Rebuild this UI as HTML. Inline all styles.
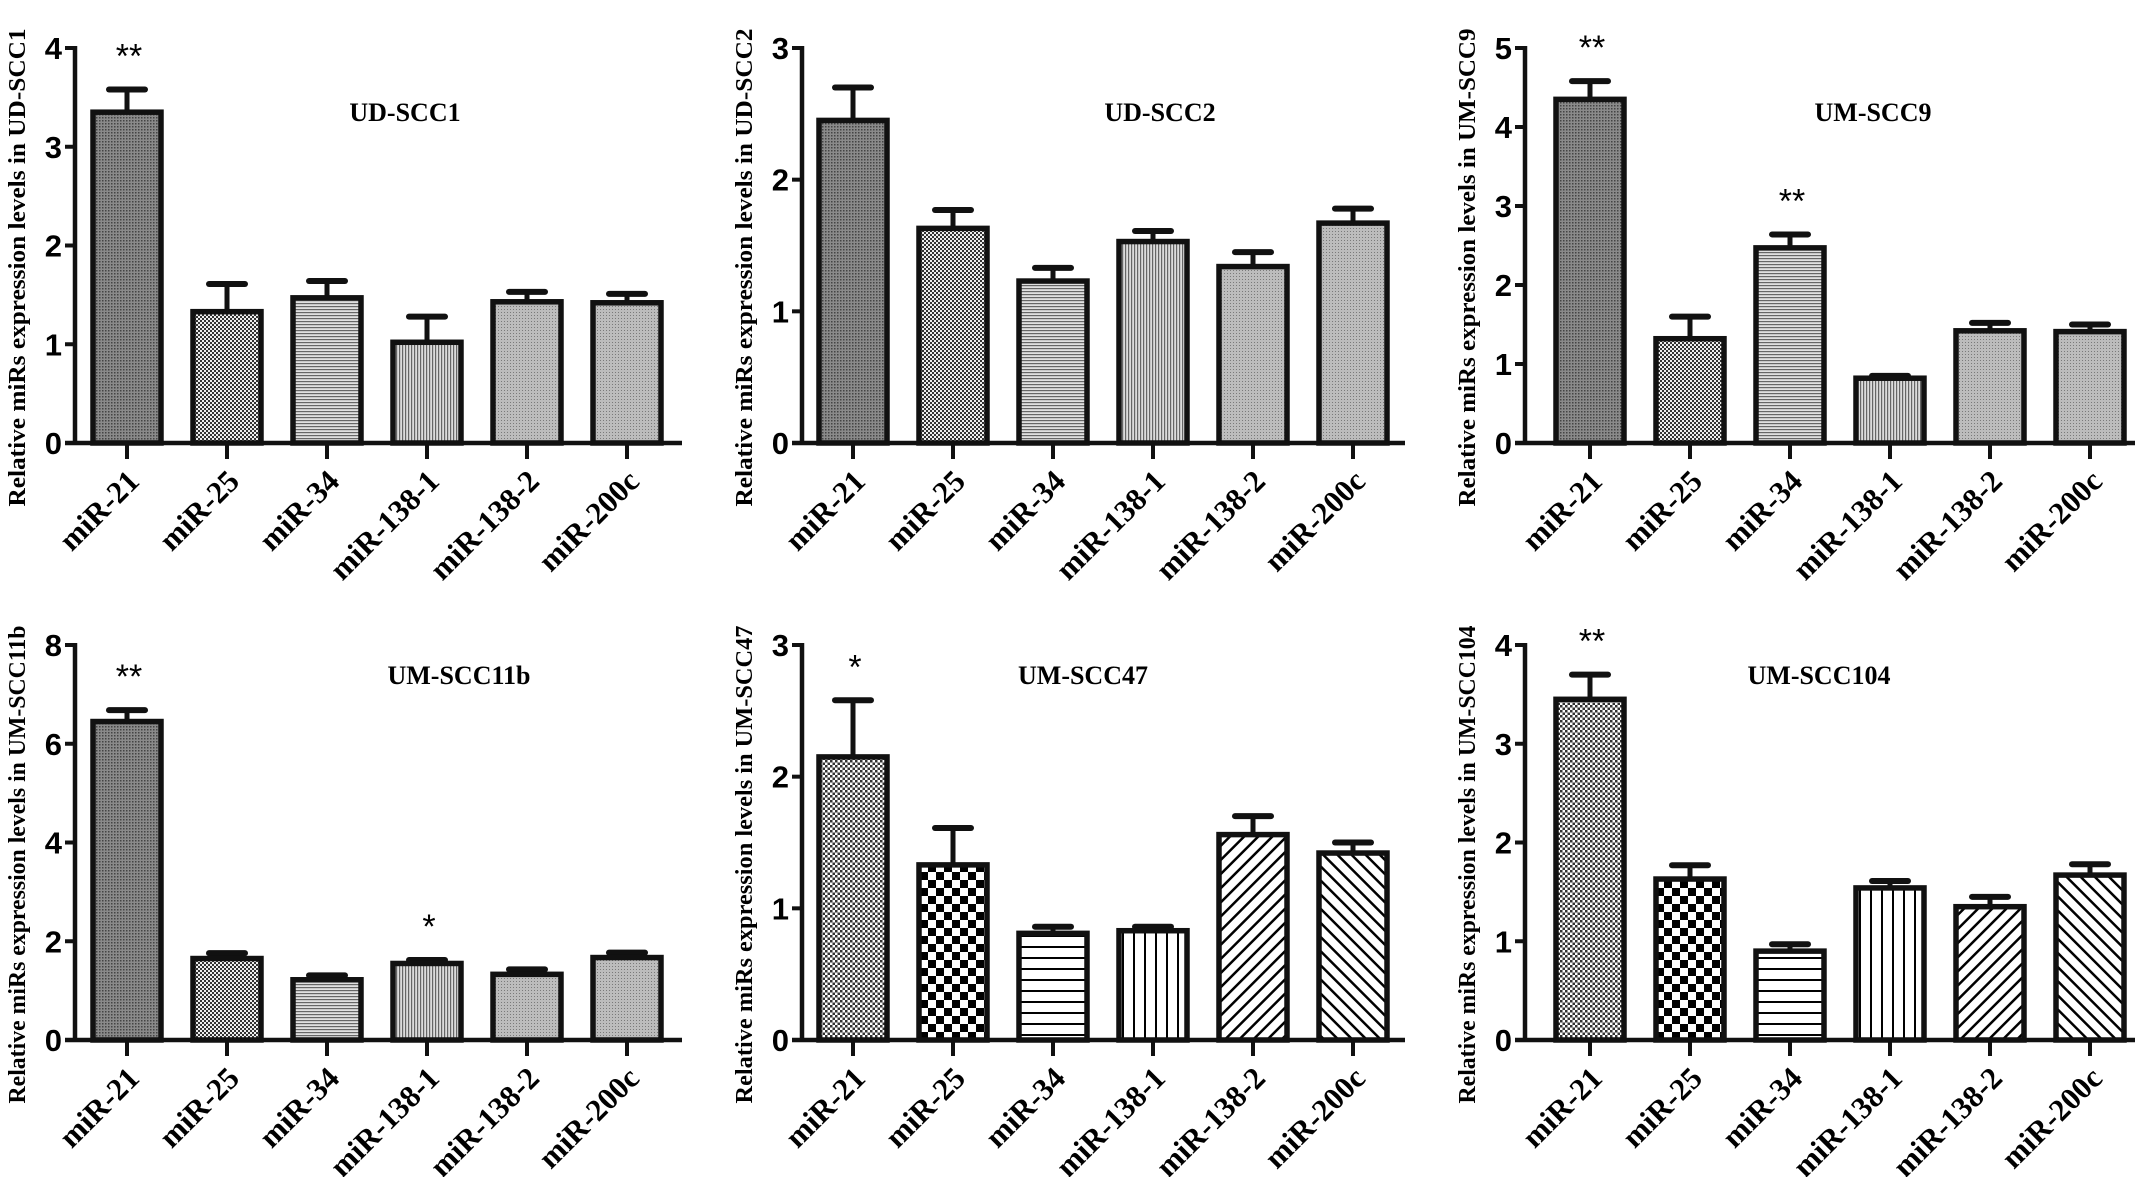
<!DOCTYPE html>
<html><head><meta charset="utf-8">
<style>
html,body{margin:0;padding:0;background:#fff;}
svg{display:block;}
.tick{font-family:"Liberation Sans",sans-serif;font-weight:bold;font-size:31px;}
.cat{font-family:"Liberation Serif",serif;font-weight:bold;font-size:31px;}
.ylab{font-family:"Liberation Serif",serif;font-weight:bold;font-size:24px;}
.ttl{font-family:"Liberation Serif",serif;font-weight:bold;font-size:26px;}
.star{font-family:"Liberation Sans",sans-serif;font-size:34px;}
</style></head>
<body>
<svg id="fig" width="2150" height="1177" viewBox="0 0 2150 1177" xmlns="http://www.w3.org/2000/svg">
<defs>
<pattern id="pDark" width="3" height="3" patternUnits="userSpaceOnUse"><rect width="3" height="3" fill="#8a8a8a"/><rect width="1.5" height="1.5" fill="#444"/></pattern>
<pattern id="pCheckFine" width="4" height="4" patternUnits="userSpaceOnUse"><rect width="4" height="4" fill="#eee"/><rect width="2" height="2" fill="#333"/><rect x="2" y="2" width="2" height="2" fill="#333"/></pattern>
<pattern id="pHFine" width="4" height="3" patternUnits="userSpaceOnUse"><rect width="4" height="3" fill="#e0e0e0"/><rect width="4" height="1.2" fill="#666"/></pattern>
<pattern id="pVFine" width="3" height="4" patternUnits="userSpaceOnUse"><rect width="3" height="4" fill="#dcdcdc"/><rect width="1.2" height="4" fill="#666"/></pattern>
<pattern id="pLight" width="3" height="3" patternUnits="userSpaceOnUse"><rect width="3" height="3" fill="#bcbcbc"/><rect width="1" height="1" fill="#7a7a7a"/></pattern>
<pattern id="pDots" width="5" height="5" patternUnits="userSpaceOnUse"><rect width="5" height="5" fill="#fff"/><rect width="2.5" height="2.5" fill="#333"/><rect x="2.5" y="2.5" width="2.5" height="2.5" fill="#333"/></pattern>
<pattern id="pCheck" width="16" height="16" patternUnits="userSpaceOnUse"><rect width="16" height="16" fill="#fff"/><rect width="8" height="8" fill="#000"/><rect x="8" y="8" width="8" height="8" fill="#000"/></pattern>
<pattern id="pH" width="10" height="11" patternUnits="userSpaceOnUse"><rect width="10" height="11" fill="#fff"/><rect width="10" height="2" fill="#000"/></pattern>
<pattern id="pV" width="11" height="10" patternUnits="userSpaceOnUse"><rect width="11" height="10" fill="#fff"/><rect width="2" height="10" fill="#000"/></pattern>
<pattern id="pD1" width="10" height="10" patternUnits="userSpaceOnUse" patternTransform="rotate(45)"><rect width="10" height="10" fill="#fff"/><rect width="2.5" height="10" fill="#000"/></pattern>
<pattern id="pD2" width="10" height="10" patternUnits="userSpaceOnUse" patternTransform="rotate(-45)"><rect width="10" height="10" fill="#fff"/><rect width="2.5" height="10" fill="#000"/></pattern>
</defs>
</svg>
<script>
const categories = ["miR-21","miR-25","miR-34","miR-138-1","miR-138-2","miR-200c"];
const titles = ["UD-SCC1","UD-SCC2","UM-SCC9","UM-SCC11b","UM-SCC47","UM-SCC104"];
const yMax = [4,3,5,8,3,4];
const yStep = [1,1,1,2,1,1];
const valsUDSCC1 = [3.35,1.33,1.47,1.02,1.43,1.42];
const errsUDSCC1 = [0.23,0.28,0.17,0.26,0.10,0.09];
const valsUDSCC2 = [2.45,1.63,1.23,1.53,1.34,1.67];
const errsUDSCC2 = [0.25,0.14,0.10,0.08,0.11,0.11];
const valsUMSCC9 = [4.35,1.32,2.47,0.82,1.42,1.41];
const errsUMSCC9 = [0.23,0.28,0.17,0.03,0.10,0.09];
const valsUMSCC11b = [6.45,1.65,1.22,1.55,1.33,1.67];
const errsUMSCC11b = [0.23,0.11,0.09,0.07,0.10,0.10];
const valsUMSCC47 = [2.15,1.33,0.81,0.83,1.56,1.42];
const errsUMSCC47 = [0.43,0.28,0.05,0.03,0.14,0.08];
const valsUMSCC104 = [3.45,1.63,0.90,1.54,1.35,1.67];
const errsUMSCC104 = [0.25,0.14,0.07,0.07,0.10,0.11];
const starsUDSCC1 = ["**","","","","",""];
const starsUDSCC2 = ["","","","","",""];
const starsUMSCC9 = ["**","","**","","",""];
const starsUMSCC11b = ["**","","","*","",""];
const starsUMSCC47 = ["*","","","","",""];
const starsUMSCC104 = ["**","","","","",""];

const allVals=[valsUDSCC1,valsUDSCC2,valsUMSCC9,valsUMSCC11b,valsUMSCC47,valsUMSCC104];
const allErrs=[errsUDSCC1,errsUDSCC2,errsUMSCC9,errsUMSCC11b,errsUMSCC47,errsUMSCC104];
const allStars=[starsUDSCC1,starsUDSCC2,starsUMSCC9,starsUMSCC11b,starsUMSCC47,starsUMSCC104];
const axX=[75,802,1525,75,802,1525];
const firstTick=[127,853,1590,127,853,1590];
const axEnd=[682,1405,2135,682,1405,2135];
const titleX=[405,1160,1873,459,1083,1819];
const fills=[
 ["pDark","pCheckFine","pHFine","pVFine","pLight","pLight"],
 ["pDark","pCheckFine","pHFine","pVFine","pLight","pLight"],
 ["pDark","pCheckFine","pHFine","pVFine","pLight","pLight"],
 ["pDark","pCheckFine","pHFine","pVFine","pLight","pLight"],
 ["pDots","pCheck","pH","pV","pD1","pD2"],
 ["pDots","pCheck","pH","pV","pD1","pD2"]];
const svg=document.getElementById('fig');
const NS="http://www.w3.org/2000/svg";
function mk(tag,attrs,parent){const e=document.createElementNS(NS,tag);for(const k in attrs)e.setAttribute(k,attrs[k]);(parent||svg).appendChild(e);return e;}

for(let p=0;p<6;p++){
  const row=p<3?0:1;
  const x0=axX[p];
  const zero=row===0?443:1040;
  const top=row===0?48:645;
  const max=yMax[p];
  const yS=v=>zero-(v/max)*(zero-top);
  const xS=i=>firstTick[p]+i*100;
  const g=mk('g',{});
  
  
  const yl=mk('text',{class:'ylab','text-anchor':'middle',transform:`translate(${x0-50},${(top+zero)/2+22}) rotate(-90)`,textLength:478,lengthAdjust:'spacingAndGlyphs'},g);
  yl.textContent='Relative miRs expression levels in '+titles[p];
  
  
  const t=mk('text',{class:'ttl','text-anchor':'middle',x:titleX[p],y:(row===0?121:684)},g);
  t.textContent=titles[p];
  
  
  for(let i=0;i<6;i++){
    const v=allVals[p][i],e=allErrs[p][i],cx=xS(i);
    const yv=yS(v),ye=yS(v+e);
    const ln=mk('line',{x1:cx,x2:cx,y1:yv,y2:ye,stroke:'#111','stroke-width':5},g);
    
    
    const cap=mk('line',{x1:cx-18,x2:cx+18,y1:ye,y2:ye,stroke:'#111','stroke-width':6,'stroke-linecap':'round'},g);
    
    
    const r=mk('rect',{x:cx-34,y:yv,width:68,height:zero-yv,fill:`url(#${fills[p][i]})`,stroke:'#111','stroke-width':5.5},g);
    
    
    if(allStars[p][i]){
      const s=mk('text',{class:'star','text-anchor':'middle',x:cx+2,y:ye-22},g);
      s.textContent=allStars[p][i];
      
      
    }
    const tk=mk('line',{x1:cx,x2:cx,y1:zero,y2:zero+16,stroke:'#111','stroke-width':4},g);
    
    
    const c=mk('text',{class:'cat','text-anchor':'end',transform:`translate(${cx+14},${zero+40}) rotate(-45)`},g);
    c.textContent=categories[i];
    
    
  }
  const ya=mk('line',{x1:x0,x2:x0,y1:top-2,y2:zero+2,stroke:'#111','stroke-width':4.5},g);
  
  
  const xa=mk('line',{x1:x0-10,x2:axEnd[p],y1:zero,y2:zero,stroke:'#111','stroke-width':4.5},g);
  
  
  for(let v=0;v<=max;v+=yStep[p]){
    const y=yS(v);
    const tl=mk('line',{x1:x0-10,x2:x0,y1:y,y2:y,stroke:'#111','stroke-width':4},g);
    
    
    const tt=mk('text',{class:'tick','text-anchor':'end',x:x0-13,y:y+11},g);
    tt.textContent=v;
    
    
  }
}
</script>
</body></html>
